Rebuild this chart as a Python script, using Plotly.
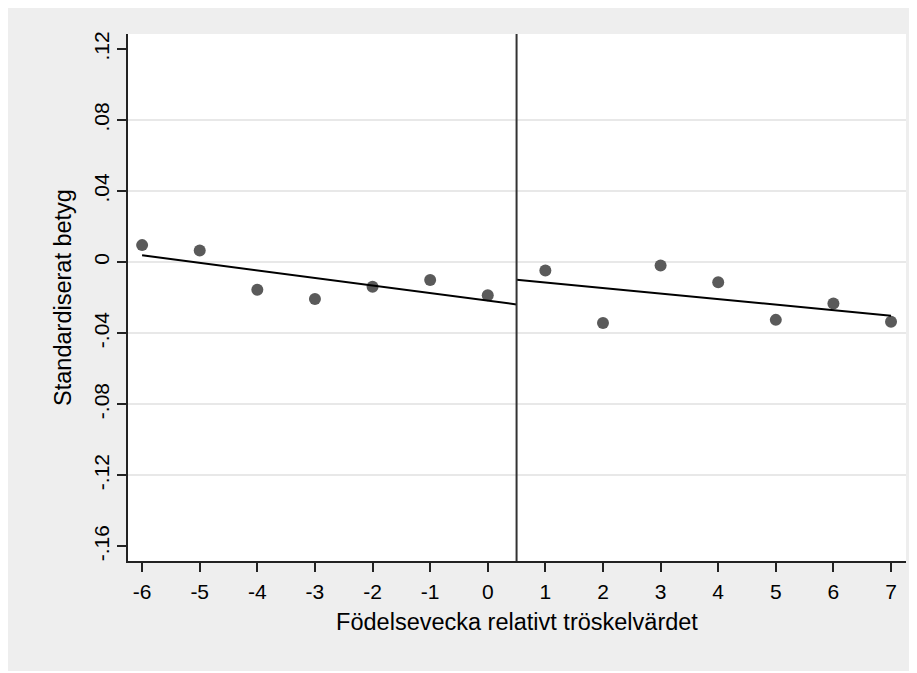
import plotly.graph_objects as go

# ---- data ----
weeks = [-6, -5, -4, -3, -2, -1, 0, 1, 2, 3, 4, 5, 6, 7]
grade = [0.0096, 0.0066, -0.0156, -0.0207, -0.0139, -0.0101, -0.0186,
         -0.0047, -0.0342, -0.0019, -0.0113, -0.0325, -0.0233, -0.0336]

cutoff = 0.5
fit_left_x = [-6, 0.5]
fit_left_y = [0.0039, -0.0238]
fit_right_x = [0.5, 7]
fit_right_y = [-0.0099, -0.0302]

x_ticks = [-6, -5, -4, -3, -2, -1, 0, 1, 2, 3, 4, 5, 6, 7]
y_ticks = [0.12, 0.08, 0.04, 0, -0.04, -0.08, -0.12, -0.16]
y_tick_labels = [".12", ".08", ".04", "0", "-.04", "-.08", "-.12", "-.16"]
y_grid = [0.08, 0.04, 0, -0.04, -0.08, -0.12]

x_title = "Födelsevecka relativt tröskelvärdet"
y_title = "Standardiserat betyg"

FONT = "Liberation Sans, Arial, sans-serif"
BG = "#eeeeee"

fig = go.Figure()

fig.add_trace(go.Scatter(
    x=weeks, y=grade, mode="markers",
    marker=dict(color="#5a5a5a", size=12, line=dict(width=0)),
    showlegend=False, hoverinfo="skip"))

fig.add_trace(go.Scatter(
    x=fit_left_x, y=fit_left_y, mode="lines",
    line=dict(color="black", width=2), showlegend=False, hoverinfo="skip"))
fig.add_trace(go.Scatter(
    x=fit_right_x, y=fit_right_y, mode="lines",
    line=dict(color="black", width=2), showlegend=False, hoverinfo="skip"))

fig.add_vline(x=cutoff, line=dict(color="#333333", width=2), layer="above")

fig.update_layout(
    width=910, height=663,
    margin=dict(l=120, r=12, t=26, b=110),
    paper_bgcolor=BG, plot_bgcolor="white",
    font=dict(family=FONT, color="black"),
    showlegend=False,
    xaxis=dict(
        range=[-6.245, 7.26], tickmode="array", tickvals=x_ticks,
        ticktext=[str(v) for v in x_ticks],
        showgrid=False, zeroline=False,
        showline=True, linecolor="#222222", linewidth=1.5, mirror=False,
        ticks="outside", ticklen=9, tickwidth=1.5, tickcolor="#222222",
        tickfont=dict(size=21, family=FONT, color="black"),
        ticklabelstandoff=2,
        title=dict(text=x_title, font=dict(size=23.5, family=FONT, color="black"), standoff=12),
    ),
    yaxis=dict(
        range=[-0.1683, 0.1285], tickmode="array", tickvals=y_ticks,
        ticktext=y_tick_labels, tickangle=-90,
        showgrid=False, zeroline=False,
        showline=True, linecolor="#222222", linewidth=1.5, mirror=False,
        ticks="outside", ticklen=9, tickwidth=1.5, tickcolor="#222222",
        tickfont=dict(size=21, family=FONT, color="black"),
        minor=dict(tickmode="array", tickvals=y_grid, showgrid=True,
                   gridcolor="#e8e8e8", gridwidth=1.5, ticks=""),
        title=dict(text=y_title, font=dict(size=23.5, family=FONT, color="black"), standoff=12),
    ),
)

fig.write_html("out.html")
